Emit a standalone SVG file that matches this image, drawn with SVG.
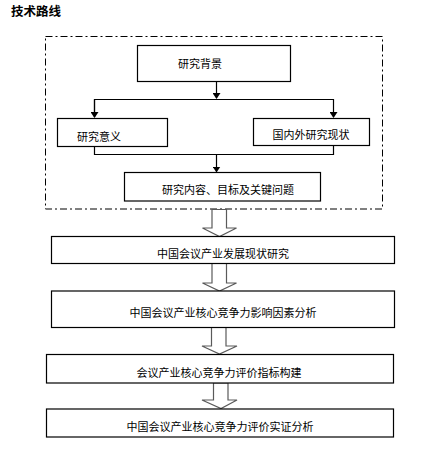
<svg xmlns="http://www.w3.org/2000/svg" width="444" height="453" viewBox="0 0 444 453">
<style>
.box{fill:#fff;stroke:#000;stroke-width:1.2}
.t{font-family:"Noto Sans CJK SC","Noto Sans",sans-serif;font-size:11px;fill:#000}
.ln{fill:none;stroke:#000;stroke-width:1.2}
.ha{fill:#fff;stroke:#5a5a5a;stroke-width:1.2}
</style>
<defs>
<marker id="ah" markerWidth="6" markerHeight="8" refX="5" refY="4" orient="auto" markerUnits="userSpaceOnUse">
<path d="M0,0 L6,4 L0,8 z" fill="#000"/>
</marker>
</defs>
<rect width="444" height="453" fill="#fff"/>
<text x="11" y="16" style="font-family:'Noto Sans CJK SC',sans-serif;font-size:12.5px;font-weight:bold" fill="#000">技术路线</text>
<rect id="frame" x="45.5" y="36.5" width="337" height="172.5" fill="none" stroke="#000" stroke-width="1" stroke-dasharray="7 3 2 3"/>
<g id="connectors">
<line class="ln" x1="216.5" y1="82" x2="216.5" y2="98" marker-end="url(#ah)"/>
<polyline class="ln" points="94.5,117 94.5,99.5 333.5,99.5 333.5,117" marker-end="url(#ah)"/>
<line class="ln" x1="94.5" y1="99.5" x2="94.5" y2="117" marker-end="url(#ah)"/>
<polyline class="ln" points="94.5,146 94.5,154.5 333.5,154.5 333.5,145"/>
<line class="ln" x1="216.5" y1="154.5" x2="216.5" y2="171.5" marker-end="url(#ah)"/>
<path class="ha" d="M212,209.5 L226.5,209.5 L226.5,228 L236.5,228 L219.5,236.5 L202.5,228 L212,228 Z"/>
<path class="ha" d="M212,263.5 L226.5,263.5 L226.5,283 L236.5,283 L219.5,291 L202.5,283 L212,283 Z"/>
<path class="ha" d="M211.5,327.5 L226,327.5 L226,346 L237,346 L219.5,354 L202,346 L211.5,346 Z"/>
<path class="ha" d="M213.5,383 L228,383 L228,400 L237,400 L221,408.5 L202,400 L213.5,400 Z"/>
</g>
<g id="n1"><rect class="box" x="137.5" y="45.5" width="153" height="36"/><text class="t" x="178" y="67.5">研究背景</text></g>
<g id="n2"><rect class="box" x="57.5" y="118.5" width="110" height="28"/><text class="t" x="77" y="140.5">研究意义</text></g>
<g id="n3"><rect class="box" x="253.5" y="118.5" width="116" height="27"/><text class="t" x="272.5" y="139">国内外研究现状</text></g>
<g id="n4"><rect class="box" x="124.5" y="172.5" width="196" height="28.5"/><text class="t" x="162" y="194">研究内容、目标及关键问题</text></g>
<g id="n5"><rect class="box" x="51.5" y="236.5" width="343" height="27"/><text class="t" x="157" y="258">中国会议产业发展现状研究</text></g>
<g id="n6"><rect class="box" x="51.5" y="291" width="343" height="36.5"/><text class="t" x="129.5" y="316.5">中国会议产业核心竞争力影响因素分析</text></g>
<g id="n7"><rect class="box" x="46.5" y="354.5" width="347" height="28.5"/><text class="t" x="136.5" y="376.5">会议产业核心竞争力评价指标构建</text></g>
<g id="n8"><rect class="box" x="46.5" y="409" width="347" height="28"/><text class="t" x="126.5" y="430.5">中国会议产业核心竞争力评价实证分析</text></g>
</svg>
